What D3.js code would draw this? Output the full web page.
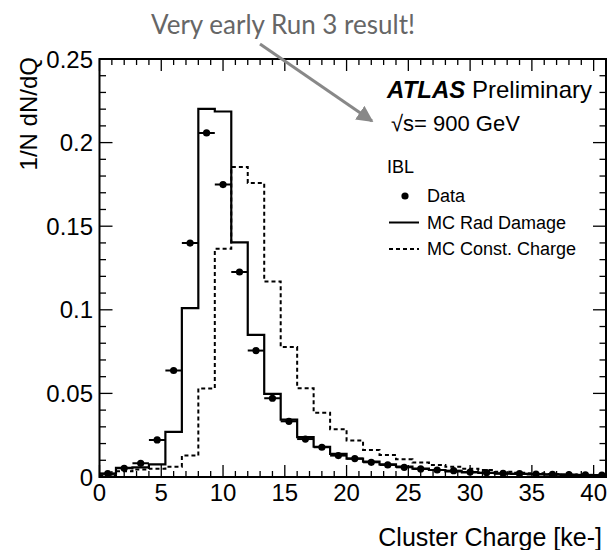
<!DOCTYPE html>
<html>
<head>
<meta charset="utf-8">
<script src="https://d3js.org/d3.v7.min.js"></script>
<style>
  body { margin: 0; background: #fff; }
  svg { display: block; font-family: "Liberation Sans", Arial, Helvetica, sans-serif; }
</style>
</head>
<body>
<div id="chart"></div>
<script>
// Step 1: data
// bins are 4/3 ke- wide, starting at 0
var binWidth = 4 / 3;
var radDamage = [0.002, 0.0055, 0.0057, 0.0076, 0.027, 0.101, 0.2202, 0.2186, 0.1403, 0.085,
  0.0497, 0.0343, 0.0238, 0.0181, 0.0138, 0.011, 0.0092, 0.0076, 0.0062, 0.005,
  0.0042, 0.0034, 0.0028, 0.0024, 0.002, 0.0018, 0.0016, 0.0014, 0.0012, 0.0011, 0.001];
var constCharge = [0.0008, 0.0035, 0.0045, 0.005, 0.0062, 0.0128, 0.053, 0.1365, 0.1854, 0.1758,
  0.117, 0.0777, 0.0531, 0.0385, 0.0286, 0.0218, 0.0162, 0.0132, 0.0106, 0.0086,
  0.0072, 0.0062, 0.005, 0.0042, 0.0032, 0.0026, 0.0022, 0.0018, 0.0015, 0.0012, 0.001];
var dataPoints = [0.002, 0.0052, 0.0082, 0.0222, 0.0637, 0.1399, 0.2058, 0.1749, 0.1226, 0.0756,
  0.0471, 0.0333, 0.0227, 0.0178, 0.0128, 0.011, 0.0088, 0.0072, 0.0058, 0.0048,
  0.0042, 0.0038, 0.003, 0.0026, 0.0022, 0.002, 0.0018, 0.0016, 0.0015, 0.0013, 0.0012];
var xTickLabels = [0, 5, 10, 15, 20, 25, 30, 35, 40];
var yTickLabels = [0, 0.05, 0.1, 0.15, 0.2, 0.25];
var legendItems = ["Data", "MC Rad Damage", "MC Const. Charge"];

// Step 2: chart area
var svgWidth = 609;
var svgHeight = 550;
var frame = { left: 99.5, right: 606, top: 59, bottom: 477 };

var svg = d3.select("#chart")
  .append("svg")
  .attr("width", svgWidth)
  .attr("height", svgHeight);

var x = d3.scaleLinear().domain([0, 41]).range([frame.left, frame.right]);
var y = d3.scaleLinear().domain([0, 0.25]).range([frame.bottom, frame.top]);

svg.append("clipPath").attr("id", "plotclip")
  .append("rect")
  .attr("x", frame.left).attr("y", frame.top)
  .attr("width", frame.right - frame.left)
  .attr("height", frame.bottom - frame.top);

// Step 3: axes, ROOT style ticks inside the frame on all four sides
var xMinor = d3.range(0, 42, 1);
var yMinor = d3.range(0, 0.2501, 0.01);

var ticks = svg.append("g").attr("stroke", "#000").attr("stroke-width", 1.3);
xMinor.forEach(function(v) {
  var len = (v % 5 === 0) ? 12 : 6;
  ticks.append("line").attr("x1", x(v)).attr("x2", x(v)).attr("y1", frame.bottom).attr("y2", frame.bottom - len);
  ticks.append("line").attr("x1", x(v)).attr("x2", x(v)).attr("y1", frame.top).attr("y2", frame.top + len);
});
yMinor.forEach(function(v, i) {
  var len = (i % 5 === 0) ? 13 : 6.5;
  ticks.append("line").attr("x1", frame.left).attr("x2", frame.left + len).attr("y1", y(v)).attr("y2", y(v));
  ticks.append("line").attr("x1", frame.right).attr("x2", frame.right - len).attr("y1", y(v)).attr("y2", y(v));
});

svg.append("g").selectAll("text")
  .data(xTickLabels)
  .enter().append("text")
  .attr("x", d => x(d))
  .attr("y", 501)
  .attr("text-anchor", "middle")
  .attr("font-size", 24)
  .text(d => d);

svg.append("g").selectAll("text")
  .data(yTickLabels)
  .enter().append("text")
  .attr("x", 93)
  .attr("y", d => y(d) + 8.5)
  .attr("text-anchor", "end")
  .attr("font-size", 24)
  .text(d => d);

svg.append("text")
  .attr("x", 602)
  .attr("y", 546)
  .attr("text-anchor", "end")
  .attr("font-size", 25)
  .text("Cluster Charge [ke-]");

svg.append("text")
  .attr("transform", "translate(37, 57) rotate(-90)")
  .attr("text-anchor", "end")
  .attr("font-size", 24)
  .text("1/N dN/dQ");

// Step 4: histograms as steps
function stepPoints(values) {
  var pts = values.map(function(v, i) { return [i * binWidth, v]; });
  pts.push([values.length * binWidth, values[values.length - 1]]);
  return pts;
}
var stepLine = d3.line()
  .x(d => x(d[0]))
  .y(d => y(d[1]))
  .curve(d3.curveStepAfter);

var plot = svg.append("g").attr("clip-path", "url(#plotclip)");

plot.append("path")
  .attr("d", stepLine(stepPoints(constCharge)))
  .attr("fill", "none")
  .attr("stroke", "#000")
  .attr("stroke-width", 2)
  .attr("stroke-dasharray", "4,3");

plot.append("path")
  .attr("d", stepLine(stepPoints(radDamage)))
  .attr("fill", "none")
  .attr("stroke", "#000")
  .attr("stroke-width", 2.2);

// data points with bin-width error bars
var dots = plot.selectAll("g.dot")
  .data(dataPoints)
  .enter().append("g");

dots.append("line")
  .attr("x1", (d, i) => x(i * binWidth))
  .attr("x2", (d, i) => x((i + 1) * binWidth))
  .attr("y1", d => y(d))
  .attr("y2", d => y(d))
  .attr("stroke", "#000")
  .attr("stroke-width", 2);

dots.append("circle")
  .attr("cx", (d, i) => x((i + 0.5) * binWidth))
  .attr("cy", d => y(d))
  .attr("r", 3.6)
  .attr("fill", "#000");

// frame on top
svg.append("rect")
  .attr("x", frame.left).attr("y", frame.top)
  .attr("width", frame.right - frame.left)
  .attr("height", frame.bottom - frame.top)
  .attr("fill", "none")
  .attr("stroke", "#000")
  .attr("stroke-width", 2);

// Step 5: labels and legend
var atlas = svg.append("text")
  .attr("x", 592)
  .attr("y", 98)
  .attr("text-anchor", "end")
  .attr("font-size", 24);
atlas.append("tspan").attr("font-weight", "bold").attr("font-style", "italic").text("ATLAS");
atlas.append("tspan").text(" Preliminary");

svg.append("text")
  .attr("x", 391)
  .attr("y", 131)
  .attr("font-size", 22)
  .text("\u221As= 900 GeV");

svg.append("text")
  .attr("x", 387)
  .attr("y", 173)
  .attr("font-size", 18)
  .text("IBL");

var legend = svg.append("g");
legendItems.forEach(function(name, i) {
  var ly = 196 + i * 26.5;
  if (i === 0) {
    legend.append("circle").attr("cx", 405).attr("cy", ly).attr("r", 3.6).attr("fill", "#000");
  } else {
    legend.append("line")
      .attr("x1", 389).attr("x2", 419)
      .attr("y1", ly).attr("y2", ly)
      .attr("stroke", "#000")
      .attr("stroke-width", 2)
      .attr("stroke-dasharray", i === 2 ? "4,3" : null);
  }
  legend.append("text")
    .attr("x", 427)
    .attr("y", ly + 6)
    .attr("font-size", 18)
    .text(name);
});

// Step 6: the grey annotation and arrow
svg.append("text")
  .attr("x", 283)
  .attr("y", 34)
  .attr("text-anchor", "middle")
  .attr("font-family", "Lato, 'Noto Sans', sans-serif")
  .attr("font-size", 26)
  .attr("fill", "#666")
  .text("Very early Run 3 result!");

svg.append("defs").append("marker")
  .attr("id", "arrowhead")
  .attr("viewBox", "0 0 10 10")
  .attr("refX", 9).attr("refY", 5)
  .attr("markerWidth", 5.5).attr("markerHeight", 5.5)
  .attr("orient", "auto")
  .append("path")
  .attr("d", "M0,0 L10,5 L0,10 Z")
  .attr("fill", "#888");

svg.append("line")
  .attr("x1", 260).attr("y1", 44)
  .attr("x2", 372).attr("y2", 121)
  .attr("stroke", "#888")
  .attr("stroke-width", 3)
  .attr("marker-end", "url(#arrowhead)");
</script>
</body>
</html>
